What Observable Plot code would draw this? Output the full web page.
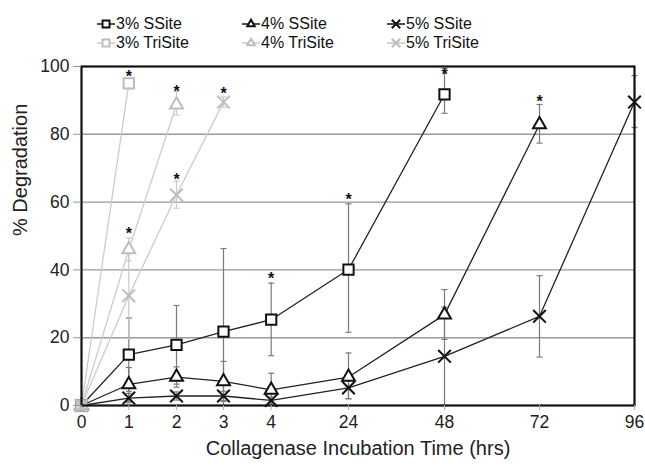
<!DOCTYPE html>
<html><head><meta charset="utf-8">
<script src="https://cdn.jsdelivr.net/npm/d3@7"></script>
<script src="https://cdn.jsdelivr.net/npm/@observablehq/plot@0.6"></script>
<style>
body{margin:0;background:#fff;font-family:"Liberation Sans",Arial,sans-serif;}
#legend{position:relative;height:52px;width:645px;}
.item{position:absolute;display:flex;align-items:center;font-size:16px;line-height:18px;color:#111;white-space:nowrap;}
.item svg{margin-right:1px;}
</style></head><body>
<div id="legend"></div><div id="chart"></div>
<script>
// x tick categories (hours)
const times = [0, 1, 2, 3, 4, 24, 48, 72, 96];
const yTicks = [0, 20, 40, 60, 80, 100];

// 3% SSite
const ss3Time = [0, 1, 2, 3, 4, 24, 48];
const ss3Val  = [0, 15.0, 17.9, 21.8, 25.3, 40.1, 91.8];
const ss3Lo   = [0, 4.2, 6.3, 0, 14.7, 21.6, 86.2];
const ss3Hi   = [0, 25.8, 29.5, 46.3, 36.1, 59.5, 99.4];
// 4% SSite
const ss4Time = [0, 1, 2, 3, 4, 24, 48, 72];
const ss4Val  = [0, 6.2, 8.4, 7.1, 4.6, 8.4, 26.8, 82.9];
const ss4Lo   = [0, 1.2, 5.4, 1.2, 0, 2.0, 19.5, 77.4];
const ss4Hi   = [0, 11.2, 11.4, 13.0, 9.5, 15.5, 34.2, 88.8];
// 5% SSite
const ss5Time = [0, 1, 2, 3, 4, 24, 48, 72, 96];
const ss5Val  = [0, 2.2, 2.8, 2.8, 1.5, 5.2, 14.5, 26.3, 89.5];
const ss5Lo   = [0, 0.8, 1.6, 1.4, 0.5, 2.0, 0, 14.3, 82.0];
const ss5Hi   = [0, 3.6, 4.0, 4.2, 2.5, 8.4, 29.0, 38.3, 97.3];
// 3% TriSite
const tr3Time = [0, 1];
const tr3Val  = [0, 95.0];
const tr3Lo   = [0, 93.5];
const tr3Hi   = [0, 96.5];
// 4% TriSite
const tr4Time = [0, 1, 2];
const tr4Val  = [0, 46.0, 88.7];
const tr4Lo   = [0, 42.7, 85.7];
const tr4Hi   = [0, 49.4, 92.6];
// 5% TriSite
const tr5Time = [0, 1, 2, 3];
const tr5Val  = [0, 32.4, 62.1, 89.5];
const tr5Lo   = [0, 19.7, 58.2, 88.0];
const tr5Hi   = [0, 45.0, 66.2, 91.0];

// significance stars
const starTime = [1, 1, 2, 2, 3, 4, 24, 48, 72];
const starVal  = [98.3, 52.2, 94.0, 68.0, 93.4, 38.9, 62.0, 99.0, 91.0];

const series = [
  {name: "3% SSite",   t: ss3Time, v: ss3Val, lo: ss3Lo, hi: ss3Hi, symbol: "square",   color: "#111", line: "#222", err: "#7a7a7a"},
  {name: "4% SSite",   t: ss4Time, v: ss4Val, lo: ss4Lo, hi: ss4Hi, symbol: "triangle", color: "#111", line: "#222", err: "#7a7a7a"},
  {name: "5% SSite",   t: ss5Time, v: ss5Val, lo: ss5Lo, hi: ss5Hi, symbol: "times",    color: "#111", line: "#222", err: "#7a7a7a"},
  {name: "3% TriSite", t: tr3Time, v: tr3Val, lo: tr3Lo, hi: tr3Hi, symbol: "square",   color: "#bdbdbd", line: "#cccccc", err: "#c8c8c8"},
  {name: "4% TriSite", t: tr4Time, v: tr4Val, lo: tr4Lo, hi: tr4Hi, symbol: "triangle", color: "#bdbdbd", line: "#cccccc", err: "#c8c8c8"},
  {name: "5% TriSite", t: tr5Time, v: tr5Val, lo: tr5Lo, hi: tr5Hi, symbol: "times",    color: "#bdbdbd", line: "#cccccc", err: "#c8c8c8"}
];
const legendOrder = ["3% SSite", "4% SSite", "5% SSite", "3% TriSite", "4% TriSite", "5% TriSite"];
const symbolR = {square: 5.8, triangle: 4.8, times: 5.8};

const capSymbol = {draw(ctx, size) { const w = Math.sqrt(size) / 2; ctx.moveTo(-w, 0); ctx.lineTo(w, 0); }};

const marks = [
  Plot.ruleY([20, 40, 60, 80], {stroke: "#9a9a9a", strokeWidth: 1.4})
];
const rowsOf = s => s.t.map((t, i) => ({t, v: s.v[i], lo: s.lo[i], hi: s.hi[i]}));
for (const s of series) {
  const rows = rowsOf(s);
  const eb = rows.filter(d => d.hi > d.lo);
  marks.push(
    Plot.ruleX(eb, {x: "t", y1: "lo", y2: "hi", stroke: s.err, strokeWidth: 1.2}),
    Plot.dot(eb, {x: "t", y: "lo", symbol: capSymbol, r: 3.4, stroke: s.err, strokeWidth: 1.2}),
    Plot.dot(eb, {x: "t", y: "hi", symbol: capSymbol, r: 3.4, stroke: s.err, strokeWidth: 1.2}),
    Plot.line(rows, {x: "t", y: "v", stroke: s.line, strokeWidth: 1.3})
  );
}
for (const s of series) {
  marks.push(Plot.dot(rowsOf(s), {x: "t", y: "v", symbol: s.symbol, r: symbolR[s.symbol], stroke: s.color, fill: s.symbol === "times" ? "none" : "white", strokeWidth: 2}));
}
marks.push(
  Plot.text(starTime.map((t, i) => ({t, v: starVal[i]})), {x: "t", y: "v", text: () => "*", fontSize: 16, fontWeight: "bold", fill: "#111", dy: 5}),
  Plot.frame({stroke: "#111", strokeWidth: 2.2}),
  Plot.axisX({ticks: times, tickFormat: d => String(d), tickSize: 5, tickPadding: 5, stroke: "#b0b0b0", fill: "#222", fontSize: 17.5, label: null}),
  Plot.axisY({ticks: yTicks, tickSize: 8, tickPadding: 4, stroke: "#999", fill: "#222", fontSize: 17.5, label: null}),
  Plot.text(["% Degradation"], {frameAnchor: "left", dx: -61, rotate: -90, fontSize: 20, fill: "#222"}),
  Plot.text(["Collagenase Incubation Time (hrs)"], {frameAnchor: "bottom", dy: 49, fontSize: 20, fill: "#222", style: "letter-spacing:0.8px"})
);

const chart = Plot.plot({
  width: 645, height: 414,
  marginTop: 14, marginBottom: 61, marginLeft: 81, marginRight: 11,
  style: {fontFamily: "'Liberation Sans', Arial, sans-serif", background: "white"},
  x: {type: "linear", domain: times, range: [81, 128.3, 176, 223, 270.7, 348, 444, 539, 634]},
  y: {domain: [0, 100]},
  marks
});
document.getElementById("chart").appendChild(chart);

// legend
const leg = document.getElementById("legend");
const colX = [97, 242, 387], rowY = [24, 43];
legendOrder.forEach((name, i) => {
  const s = series.find(d => d.name === name);
  const div = document.createElement("div");
  div.className = "item";
  div.style.left = colX[i % 3] + "px";
  div.style.top = (rowY[Math.floor(i / 3)] - 9) + "px";
  const sym = d3.create("svg").attr("width", 18).attr("height", 18);
  sym.append("line").attr("x1", 0).attr("x2", 18).attr("y1", 9).attr("y2", 9).attr("stroke", s.line).attr("stroke-width", 1.6);
  const shape = {square: d3.symbolSquare, triangle: d3.symbolTriangle2, times: d3.symbolTimes}[s.symbol];
  sym.append("path").attr("transform", "translate(9,9)").attr("d", d3.symbol(shape, s.symbol === "triangle" ? 40 : 48)())
    .attr("fill", s.symbol === "times" ? "none" : "white").attr("stroke", s.color).attr("stroke-width", 2);
  div.appendChild(sym.node());
  const span = document.createElement("span");
  span.textContent = name;
  div.appendChild(span);
  leg.appendChild(div);
});
</script>
</body></html>
